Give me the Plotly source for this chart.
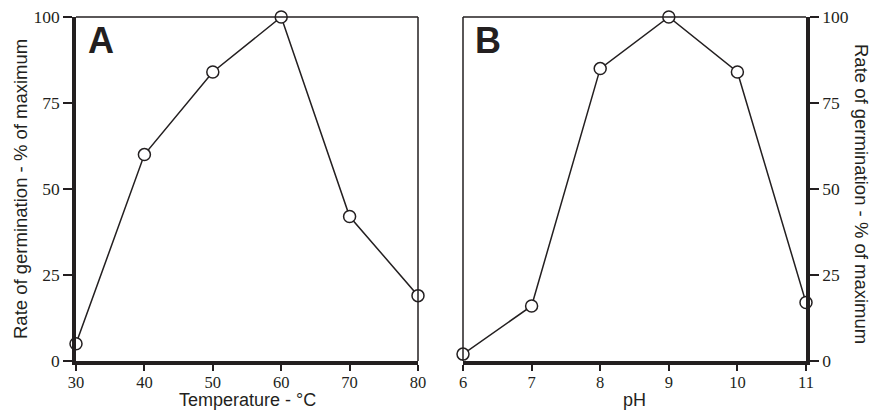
import plotly.graph_objects as go

# Germination rate vs temperature (panel A) and vs pH (panel B)
temperature = [30, 40, 50, 60, 70, 80]
rate_temperature = [5, 60, 84, 100, 42, 19]

ph = [6, 7, 8, 9, 10, 11]
rate_ph = [2, 16, 85, 100, 84, 17]

y_ticks = [0, 25, 50, 75, 100]
temperature_ticks = [30, 40, 50, 60, 70, 80]
ph_ticks = [6, 7, 8, 9, 10, 11]

ink = "#231f20"
serif = "Liberation Serif"
sans = "Liberation Sans"

marker = dict(size=12, color="white", line=dict(color=ink, width=1.5))
line = dict(color=ink, width=1.5)

fig = go.Figure()
fig.add_trace(go.Scatter(x=temperature, y=rate_temperature, mode="lines+markers",
                         marker=marker, line=line, cliponaxis=False,
                         xaxis="x", yaxis="y", showlegend=False))
fig.add_trace(go.Scatter(x=ph, y=rate_ph, mode="lines+markers",
                         marker=marker, line=line, cliponaxis=False,
                         xaxis="x2", yaxis="y2", showlegend=False))

xtickfont = dict(family=serif, size=16.5, color=ink)
ytickfont = dict(family=serif, size=17.5, color=ink)
common_x = dict(showline=True, linewidth=3.5, linecolor=ink, ticks="outside",
                ticklen=6, tickwidth=1.5, tickcolor=ink, tickfont=xtickfont,
                ticklabelstandoff=-3,
                showgrid=False, zeroline=False, automargin=False)
common_y = dict(range=[0, 100], tickvals=y_ticks, showline=True, linewidth=3.5,
                linecolor=ink, ticks="outside", ticklen=9, tickwidth=1.5,
                tickcolor=ink, tickfont=ytickfont, showgrid=False, zeroline=False,
                automargin=False)

dom_a = [0, 342 / 730]
dom_b = [387 / 730, 1]

fig.update_layout(
    width=876, height=411,
    margin=dict(l=76, r=70, t=17, b=50, pad=0),
    paper_bgcolor="white", plot_bgcolor="white",
    xaxis=dict(domain=dom_a, range=[30, 80], tickvals=temperature_ticks,
               anchor="y", **common_x),
    yaxis=dict(anchor="x", side="left", **common_y),
    xaxis2=dict(domain=dom_b, range=[6, 11], tickvals=ph_ticks,
                anchor="y2", **common_x),
    yaxis2=dict(anchor="x2", side="right", **common_y),
)

# Thin frame lines on the remaining sides of each panel
thin = dict(color=ink, width=1.5)
fig.add_shape(type="line", xref="x domain", yref="y domain", x0=0, x1=1, y0=1, y1=1, line=thin)
fig.add_shape(type="line", xref="x domain", yref="y domain", x0=1, x1=1, y0=0, y1=1, line=thin)
fig.add_shape(type="line", xref="x2 domain", yref="y2 domain", x0=0, x1=1, y0=1, y1=1, line=thin)
fig.add_shape(type="line", xref="x2 domain", yref="y2 domain", x0=0, x1=0, y0=0, y1=1, line=thin)

title_font = dict(family=sans, size=18.5, color=ink)
xtitle_font = dict(family=sans, size=18, color=ink)
letter_font = dict(family=sans, size=36, color=ink, weight=900)

fig.add_annotation(text="A", xref="x domain", yref="y domain", x=0.03, y=0.997,
                   xanchor="left", yanchor="top", showarrow=False, font=letter_font)
fig.add_annotation(text="B", xref="x2 domain", yref="y2 domain", x=0.03, y=0.997,
                   xanchor="left", yanchor="top", showarrow=False, font=letter_font)

fig.add_annotation(text="Temperature - °C", xref="x domain", yref="paper", x=0.5, y=0,
                   yshift=-50, xanchor="center", yanchor="bottom", showarrow=False,
                   borderpad=0, font=xtitle_font)
fig.add_annotation(text="pH", xref="x2 domain", yref="paper", x=0.5, y=0,
                   yshift=-50, xanchor="center", yanchor="bottom", showarrow=False,
                   borderpad=0, font=xtitle_font)
fig.add_annotation(text="Rate of germination - % of maximum", xref="paper", yref="paper",
                   x=0, y=0.5, xshift=-56, xanchor="center", yanchor="middle",
                   textangle=-90, showarrow=False, font=title_font)
fig.add_annotation(text="Rate of germination - % of maximum", xref="paper", yref="paper",
                   x=1, y=0.5, xshift=56, yshift=-5, xanchor="center", yanchor="middle",
                   textangle=90, showarrow=False, font=title_font)

fig.write_html("out.html")
